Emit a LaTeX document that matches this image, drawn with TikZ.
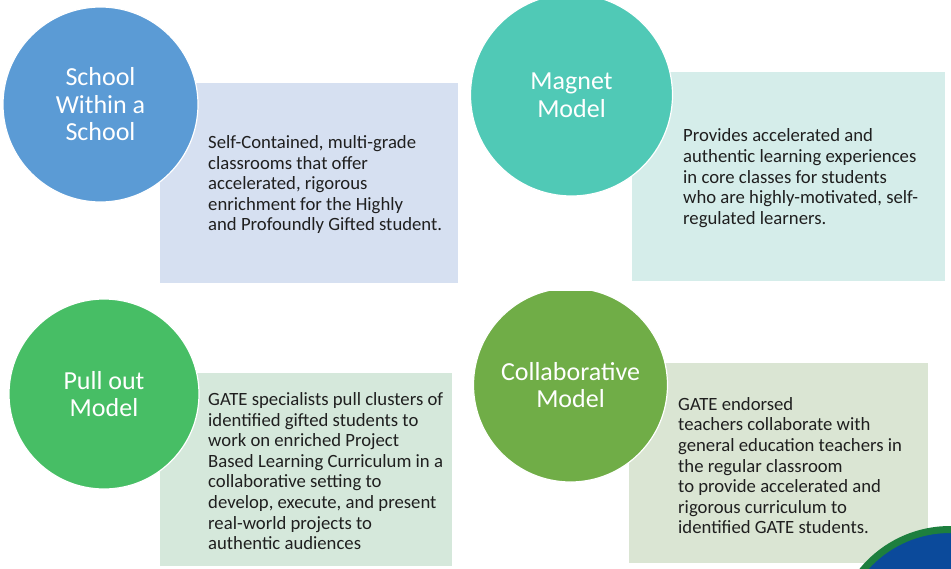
\documentclass[tikz,border=0pt]{standalone}
\usepackage{fontspec}
\setmainfont{Carlito}
\usetikzlibrary{positioning}

\definecolor{schoolblue}{HTML}{5B9BD5}
\definecolor{schoolback}{HTML}{D6E0F1}
\definecolor{magnetteal}{HTML}{50C9B6}
\definecolor{magnetback}{HTML}{D5EDEA}
\definecolor{pullgreen}{HTML}{47BE65}
\definecolor{pullback}{HTML}{D5E8DB}
\definecolor{collabgreen}{HTML}{70AD47}
\definecolor{collabback}{HTML}{DAE5D3}
\definecolor{sealgreen}{HTML}{1D7F3E}
\definecolor{sealblue}{HTML}{0B4A9B}

\begin{document}
\begin{tikzpicture}[x=1pt,y=-1pt]
       \tikzstyle{model} = [circle, draw=white, line width=1.2pt, inner sep=0pt, text=white, align=center, font=\fontsize{26}{27.5}\selectfont];
       \tikzstyle{frame} = [rectangle, inner sep=0pt, anchor=north west];
       \tikzstyle{blurb} = [align=left, inner sep=0pt, text=black!88, yshift=-1.5pt, font=\fontsize{18.7}{20.6}\selectfont];

       \useasboundingbox (0,0) rectangle (951,568);

       % boxes behind the circles
       \node[frame, fill=schoolback, minimum width=298pt, minimum height=200pt] (schoolbox) at (160,83) {};
       \node[frame, fill=magnetback, minimum width=313pt, minimum height=209pt] (magnetbox) at (632,72) {};
       \node[frame, fill=pullback, minimum width=292pt, minimum height=193pt] (pullbox) at (160,373) {};
       \node[frame, fill=collabback, minimum width=299pt, minimum height=200pt] (collabbox) at (629,363) {};

       \node[blurb, right=48pt of schoolbox.west] (schooltext) {Self-Contained, multi-grade\\classrooms that offer\\accelerated, rigorous\\enrichment for the Highly\\and Profoundly Gifted student.};
       \node[blurb, right=51pt of magnetbox.west] (magnettext) {Provides accelerated and\\authentic learning experiences\\in core classes for students\\who are highly-motivated, self-\\regulated learners.};
       \node[blurb, right=48pt of pullbox.west] (pulltext) {GATE specialists pull clusters of\\identified gifted students to\\work on enriched Project\\Based Learning Curriculum in a\\collaborative setting to\\develop, execute, and present\\real-world projects to\\authentic audiences};
       \node[blurb, right=49pt of collabbox.west, yshift=-1pt] (collabtext) {GATE endorsed\\teachers collaborate with\\general education teachers in\\the regular classroom\\to provide accelerated and\\rigorous curriculum to\\identified GATE students.};

       % the four models
       \node[model, fill=schoolblue, minimum size=195pt] (school) at (100.5,104.5) {School\\Within a\\School};
       \node[model, fill=magnetteal, minimum size=202pt] (magnet) at (571.5,95) {Magnet\\Model};
       \node[model, fill=pullgreen, minimum size=190pt] (pull) at (104,394) {Pull out\\Model};
       \begin{scope}
         \clip (0,291) rectangle (951,568);
         \node[model, fill=collabgreen, minimum size=194pt] (collab) at (570.5,385) {Collaborative\\Model};
       \end{scope}

       % corner seal
       \node[circle, fill=sealblue, draw=sealgreen, line width=7pt, minimum size=227pt] (seal) at (950,643) {};
\end{tikzpicture}
\end{document}
